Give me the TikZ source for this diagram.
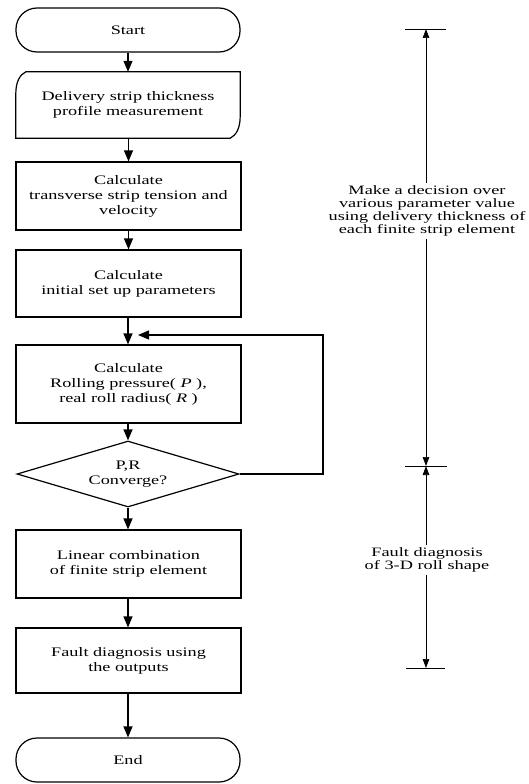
\documentclass[tikz,border=0pt]{standalone}
\usepackage{fontspec}
\setmainfont{Liberation Serif}[FakeStretch=1.4]
\newfontfamily\labfont{Liberation Serif}[FakeStretch=1.43]
\usetikzlibrary{arrows.meta,shapes.geometric,calc}
\begin{document}
\begin{tikzpicture}[x=1pt,y=-1pt,
  every node/.style={font=\fontsize{13}{15}\selectfont, align=center},
  box/.style={draw, line width=1.2pt, rectangle, minimum width=225pt, inner sep=2pt},
  term/.style={draw, line width=1.2pt, rectangle, rounded corners=21pt, minimum width=224pt, inner sep=2pt},
  arr/.style={line width=1.2pt, -{Triangle[length=11pt,width=9pt]}},
  dim/.style={line width=0.7pt, -{Triangle[length=9pt,width=6.5pt]}},
  tick/.style={line width=0.7pt},
  lab/.style={font=\labfont\fontsize{12.8}{12.9}\selectfont, inner sep=3pt}
]
\useasboundingbox (0,0) rectangle (528,784);

% flowchart nodes
\node[term, minimum height=44pt] (start) at (128,30) {Start};
\node[minimum width=224pt, minimum height=66pt, inner sep=0pt] (meas) at (128,105) {Delivery strip thickness\\profile measurement};
\draw[line width=1.2pt]
  ($(meas.north west)+(10,0)$) -- (meas.north east)
  -- ($(meas.south east)+(0,-22)$)
  .. controls ($(meas.south east)+(0,-10)$) and ($(meas.south east)+(-4,-3)$) .. ($(meas.south east)+(-10,0)$)
  -- (meas.south west)
  -- ($(meas.north west)+(0,22)$)
  .. controls ($(meas.north west)+(0,10)$) and ($(meas.north west)+(4,3)$) .. ($(meas.north west)+(10,0)$)
  -- cycle;
\node[box, minimum height=68pt] (tens) at (128.5,196) {Calculate\\transverse strip tension and\\velocity};
\node[box, minimum height=67pt] (init) at (128.5,283.5) {Calculate\\initial set up parameters};
\node[box, minimum height=78pt] (roll) at (128.5,384) {Calculate\\Rolling pressure( \textit{P} ),\\real roll radius( \textit{R} )};
\node[draw, line width=1.2pt, diamond, minimum width=222pt, minimum height=66pt, shape aspect=3.36, inner sep=0pt] (dec) at (128,474) {P,R\\Converge?};
\node[box, minimum height=68pt] (lin) at (128.5,564) {Linear combination\\of finite strip element};
\node[box, minimum height=65pt] (fault) at (128.5,660.5) {Fault diagnosis using\\the outputs};
\node[term, minimum height=44pt] (end) at (128,760) {End};

% connectors
\draw[arr] (start) -- (start|-meas.north);
\draw[arr] (meas.south-|tens.north) -- (tens.north);
\draw[arr] (tens) -- (init);
\draw[arr] (init.south-|dec.north) -- (dec.north|-roll.north);
\draw[arr] (roll.south-|dec.north) -- (dec.north);
\draw[arr] (dec.south) -- (start|-lin.north);
\draw[arr] (lin.south-|start) -- (start|-fault.north);
\draw[arr] (fault.south-|start) -- (end.north);
\coordinate (fbx) at (323,474);
\coordinate (fbend) at (138,335);
\draw[arr] (dec.east) -- (fbx) -- (fbx|-fbend) -- (fbend);

% dimension annotations
\coordinate (t1) at (426,29);
\coordinate (t2) at (426,466);
\coordinate (t3) at (426,668);
\node[lab] (lab1) at (427,211) {Make a decision over\\various parameter value\\using delivery thickness of\\each finite strip element};
\node[lab] (lab2) at (427,560) {Fault diagnosis\\of 3-D roll shape};
\draw[tick] ($(t1)+(-21,0)$) -- ($(t1)+(20,0)$);
\draw[tick] ($(t2)+(-21,0)$) -- ($(t2)+(21,0)$);
\draw[tick] ($(t3)+(-20,0)$) -- ($(t3)+(19,0)$);
\draw[dim] (lab1.north-|t1) -- (t1);
\draw[dim] (lab1.south-|t1) -- (t2);
\draw[dim] (lab2.north-|t2) -- (t2);
\draw[dim] (lab2.south-|t3) -- (t3);
\end{tikzpicture}
\end{document}
